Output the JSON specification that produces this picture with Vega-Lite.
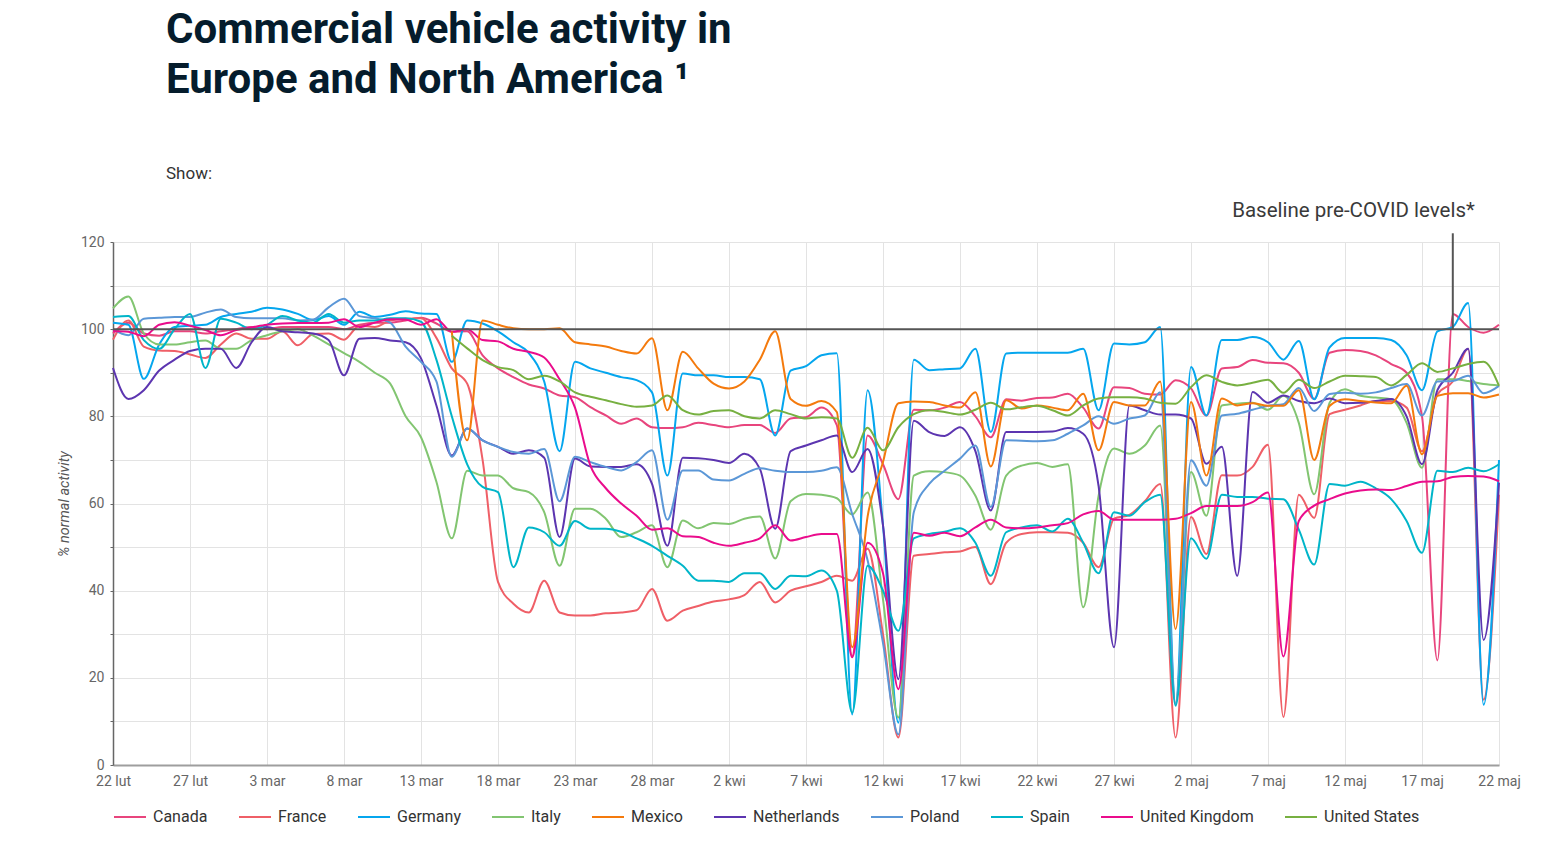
{
"$schema": "https://vega.github.io/schema/vega-lite/v6.json",
"width": 1386, "height": 523,
"autosize": {"type": "none"},
"padding": {"left": 113, "top": 242, "right": 64, "bottom": 103},
"background": "white",
"title": {"text": ["Commercial vehicle activity in", "Europe and North America ¹"], "subtitle": "Show:", "anchor": "start", "frame": "group", "dx": 53, "fontSize": 42, "fontWeight": "bold", "font": "Roboto", "color": "#051c2c", "lineHeight": 50, "subtitleFont": "Roboto", "subtitleFontSize": 17, "subtitleColor": "#333333", "subtitlePadding": 64, "offset": 18},
"layer": [
{
"data": {"values": [
{"date":"2020-02-22","Canada":99,"France":97.6,"Germany":101.5,"Italy":104.8,"Netherlands":91.1,"Poland":100,"Spain":102.8,"United Kingdom":99.6},
{"date":"2020-02-23","Canada":101.5,"France":102,"Germany":101,"Italy":107.5,"Netherlands":84,"Poland":98.6,"Spain":103,"United Kingdom":99.4},
{"date":"2020-02-24","Canada":99,"France":96,"Germany":88.6,"Italy":99,"Netherlands":86,"Poland":102.4,"Spain":97.5,"United Kingdom":98.4},
{"date":"2020-02-25","Canada":98.5,"France":95.1,"Germany":96.5,"Italy":96.5,"Netherlands":90.5,"Poland":102.6,"Spain":95.5,"United Kingdom":101},
{"date":"2020-02-26","Canada":99.5,"France":95,"Germany":100.5,"Italy":96.5,"Netherlands":93,"Poland":102.8,"Spain":100,"United Kingdom":101.6},
{"date":"2020-02-27","Canada":99.5,"France":94.2,"Germany":100.8,"Italy":97,"Netherlands":95,"Poland":102.8,"Spain":103.5,"United Kingdom":100.8},
{"date":"2020-02-28","Canada":99,"France":93.4,"Germany":101,"Italy":97.4,"Netherlands":95.5,"Poland":103.8,"Spain":91.1,"United Kingdom":99.8},
{"date":"2020-02-29","Canada":99.5,"France":96.5,"Germany":102.8,"Italy":95.5,"Netherlands":95.5,"Poland":104.5,"Spain":102.4,"United Kingdom":98.6},
{"date":"2020-03-01","Canada":100,"France":99,"Germany":103.5,"Italy":95.5,"Netherlands":91.1,"Poland":102.8,"Spain":101.5,"United Kingdom":99.8},
{"date":"2020-03-02","Canada":100.5,"France":97.8,"Germany":104,"Italy":97.5,"Netherlands":97,"Poland":102.5,"Spain":100,"United Kingdom":100.4},
{"date":"2020-03-03","Canada":100,"France":97.8,"Germany":104.9,"Italy":98.6,"Netherlands":100.5,"Poland":102.5,"Spain":101,"United Kingdom":101},
{"date":"2020-03-04","Canada":100.5,"France":99.5,"Germany":104.5,"Italy":99.5,"Netherlands":99.5,"Poland":102.5,"Spain":103,"United Kingdom":101.3},
{"date":"2020-03-05","Canada":100.5,"France":96.3,"Germany":103.5,"Italy":100,"Netherlands":99.3,"Poland":102,"Spain":102,"United Kingdom":101.4},
{"date":"2020-03-06","Canada":100.5,"France":98.9,"Germany":102.1,"Italy":98.5,"Netherlands":99,"Poland":102.2,"Spain":101.5,"United Kingdom":101.4},
{"date":"2020-03-07","Canada":100.5,"France":99,"Germany":103,"Italy":96.5,"Netherlands":97.5,"Poland":105,"Spain":103.5,"United Kingdom":101.5},
{"date":"2020-03-08","Canada":100,"France":97.6,"Germany":101,"Italy":94.5,"Netherlands":89.4,"Poland":107,"Spain":101.5,"United Kingdom":102.3},
{"date":"2020-03-09","Canada":101,"France":100.8,"Germany":104,"Italy":92.5,"Netherlands":97.8,"Poland":103,"Spain":102,"United Kingdom":100.5},
{"date":"2020-03-10","Canada":101.5,"France":100.5,"Germany":102.8,"Italy":90,"Netherlands":98,"Poland":102.5,"Spain":102,"United Kingdom":101.5},
{"date":"2020-03-11","Canada":101.5,"France":102,"Germany":103.3,"Italy":87.5,"Netherlands":97.4,"Poland":101.5,"Spain":102.5,"United Kingdom":102.3},
{"date":"2020-03-12","Canada":102,"France":102.4,"Germany":104.1,"Italy":80,"Netherlands":97,"Poland":96,"Spain":102.5,"United Kingdom":102.2},
{"date":"2020-03-13","Canada":102.6,"France":102.5,"Germany":103.6,"Italy":75.2,"Netherlands":93.3,"Poland":92.5,"Spain":101.7,"United Kingdom":101},
{"date":"2020-03-14","Canada":101.3,"France":98,"Germany":103.5,"Italy":65,"Netherlands":82.5,"Poland":88,"Spain":93,"United Kingdom":102.3},
{"date":"2020-03-15","Canada":99.4,"France":91,"Germany":92.5,"Italy":52,"Mexico":99.5,"Netherlands":71,"Poland":70.7,"Spain":80,"United Kingdom":99.4,"United States":98.5},
{"date":"2020-03-16","Canada":99.5,"France":87.5,"Germany":102,"Italy":67.5,"Mexico":74.5,"Netherlands":77.2,"Poland":77.2,"Spain":69,"United Kingdom":100,"United States":95.6},
{"date":"2020-03-17","Canada":94,"France":70,"Germany":101.3,"Italy":66.4,"Mexico":102,"Netherlands":74.5,"Poland":74.5,"Spain":63.8,"United Kingdom":97.5,"United States":92.9},
{"date":"2020-03-18","Canada":91,"France":42,"Germany":99.5,"Italy":66.4,"Mexico":101,"Netherlands":73,"Poland":73,"Spain":62.6,"United Kingdom":97.2,"United States":91.3},
{"date":"2020-03-19","Canada":89,"France":37,"Germany":97,"Italy":63.5,"Mexico":100.2,"Netherlands":71.4,"Poland":71.8,"Spain":45.4,"United Kingdom":95.5,"United States":90.6},
{"date":"2020-03-20","Canada":87.3,"France":35,"Germany":94.5,"Italy":62.6,"Mexico":100,"Netherlands":72.2,"Poland":71.4,"Spain":54.5,"United Kingdom":94.8,"United States":88.5},
{"date":"2020-03-21","Canada":86.4,"France":42.3,"Germany":88,"Italy":58,"Mexico":100,"Netherlands":70.5,"Poland":72.5,"Spain":53.4,"United Kingdom":93.5,"United States":89.3},
{"date":"2020-03-22","Canada":84.8,"France":35,"Germany":72,"Italy":45.7,"Mexico":100.2,"Netherlands":52.3,"Poland":60.5,"Spain":50.3,"United Kingdom":88.5,"United States":88},
{"date":"2020-03-23","Canada":84.4,"France":34.3,"Germany":92.5,"Italy":58.8,"Mexico":97,"Netherlands":70.3,"Poland":70.7,"Spain":56,"United Kingdom":82,"United States":85.5},
{"date":"2020-03-24","Canada":82.1,"France":34.3,"Germany":91,"Italy":58.8,"Mexico":96.5,"Netherlands":68.5,"Poland":69.5,"Spain":54.2,"United Kingdom":68.7,"United States":84.5},
{"date":"2020-03-25","Canada":80.2,"France":34.8,"Germany":90,"Italy":56.5,"Mexico":96,"Netherlands":68.4,"Poland":68.4,"Spain":54.2,"United Kingdom":63.5,"United States":83.7},
{"date":"2020-03-26","Canada":78.3,"France":35,"Germany":89,"Italy":52.3,"Mexico":95,"Netherlands":68.4,"Poland":67.6,"Spain":53.5,"United Kingdom":60,"United States":82.8},
{"date":"2020-03-27","Canada":79.5,"France":35.5,"Germany":88.3,"Italy":53.4,"Mexico":94.4,"Netherlands":69,"Poland":69.5,"Spain":52,"United Kingdom":57.2,"United States":82.2},
{"date":"2020-03-28","Canada":77.5,"France":40.4,"Germany":85.5,"Italy":55,"Mexico":97.9,"Netherlands":64.5,"Poland":72.2,"Spain":50.3,"United Kingdom":54,"United States":82.5},
{"date":"2020-03-29","Canada":77.3,"France":33.1,"Germany":66.4,"Italy":45.4,"Mexico":81.4,"Netherlands":50.3,"Poland":56.3,"Spain":48,"United Kingdom":54.3,"United States":84.8},
{"date":"2020-03-30","Canada":77.5,"France":35.4,"Germany":89.8,"Italy":56.1,"Mexico":94.8,"Netherlands":70.5,"Poland":67.6,"Spain":45.7,"United Kingdom":52.5,"United States":81.4},
{"date":"2020-03-31","Canada":78.5,"France":36.5,"Germany":89.4,"Italy":54.3,"Mexico":91,"Netherlands":70.4,"Poland":67.6,"Spain":42.3,"United Kingdom":52.3,"United States":80.4},
{"date":"2020-04-01","Canada":78,"France":37.5,"Germany":89.4,"Italy":55.5,"Mexico":87.5,"Netherlands":70,"Poland":65.5,"Spain":42.3,"United Kingdom":51,"United States":81.2},
{"date":"2020-04-02","Canada":77.5,"France":38,"Germany":89,"Italy":55.3,"Mexico":86.4,"Netherlands":69.3,"Poland":65.3,"Spain":42,"United Kingdom":50.3,"United States":81.4},
{"date":"2020-04-03","Canada":78,"France":39,"Germany":89,"Italy":56.5,"Mexico":88,"Netherlands":71.4,"Poland":66.8,"Spain":44,"United Kingdom":51,"United States":80},
{"date":"2020-04-04","Canada":78,"France":42,"Germany":88.5,"Italy":57,"Mexico":93,"Netherlands":68,"Poland":68.1,"Spain":44,"United Kingdom":52,"United States":79.5},
{"date":"2020-04-05","Canada":76.2,"France":37.3,"Germany":75.6,"Italy":47.4,"Mexico":99.5,"Netherlands":54.2,"Poland":67.5,"Spain":40.4,"United Kingdom":55,"United States":81.4},
{"date":"2020-04-06","Canada":79.5,"France":40,"Germany":90.5,"Italy":60.5,"Mexico":84,"Netherlands":72,"Poland":67.2,"Spain":43.4,"United Kingdom":51.5,"United States":80.5},
{"date":"2020-04-07","Canada":79.8,"France":41,"Germany":91.5,"Italy":62.2,"Mexico":82.4,"Netherlands":73.3,"Poland":67.2,"Spain":43.3,"United Kingdom":52.3,"United States":79.5},
{"date":"2020-04-08","Canada":82,"France":42,"Germany":94,"Italy":62,"Mexico":83.5,"Netherlands":74.5,"Poland":67.5,"Spain":44.6,"United Kingdom":53,"United States":79.8},
{"date":"2020-04-09","Canada":78,"France":43.4,"Germany":94.5,"Italy":61.2,"Mexico":81,"Netherlands":75.6,"Poland":68.3,"Spain":40,"United Kingdom":53,"United States":79.5},
{"date":"2020-04-10","Canada":25,"France":42.3,"Germany":11.6,"Italy":57.5,"Mexico":27,"Netherlands":67.2,"Poland":57.6,"Spain":12,"United Kingdom":24.7,"United States":70.5},
{"date":"2020-04-11","Canada":75.6,"France":49.6,"Germany":86,"Italy":62.5,"Mexico":57,"Netherlands":72.5,"Poland":47,"Spain":45.7,"United Kingdom":51,"United States":77.4},
{"date":"2020-04-12","Canada":69,"France":30,"Germany":55,"Italy":38,"Mexico":69.5,"Netherlands":55,"Poland":28,"Spain":40,"United Kingdom":44,"United States":72.2},
{"date":"2020-04-13","Canada":61,"France":6.3,"Germany":9.7,"Italy":10.9,"Mexico":83,"Netherlands":19.7,"Poland":7,"Spain":30.8,"United Kingdom":17.4,"United States":77.5},
{"date":"2020-04-14","Canada":81.5,"France":48,"Germany":93,"Italy":66.4,"Mexico":83.4,"Netherlands":79,"Poland":58,"Spain":52,"United Kingdom":53.3,"United States":80.5},
{"date":"2020-04-15","Canada":81.4,"France":48.4,"Germany":90.6,"Italy":67.4,"Mexico":83.3,"Netherlands":76.4,"Poland":64.5,"Spain":53,"United Kingdom":52.6,"United States":81.4},
{"date":"2020-04-16","Canada":82,"France":48.8,"Germany":90.8,"Italy":67.2,"Mexico":82.5,"Netherlands":75.5,"Poland":67.5,"Spain":53.5,"United Kingdom":53.3,"United States":81},
{"date":"2020-04-17","Canada":83.3,"France":49,"Germany":91,"Italy":66.4,"Mexico":82,"Netherlands":77.5,"Poland":70.3,"Spain":54.3,"United Kingdom":52.5,"United States":80.4},
{"date":"2020-04-18","Canada":80,"France":50,"Germany":95.5,"Italy":61.8,"Mexico":85.5,"Netherlands":72,"Poland":73.3,"Spain":51,"United Kingdom":54.5,"United States":81.5},
{"date":"2020-04-19","Canada":75.2,"France":41.5,"Germany":76.4,"Italy":54,"Mexico":68.5,"Netherlands":58.4,"Poland":59.2,"Spain":43.4,"United Kingdom":56.3,"United States":83.1},
{"date":"2020-04-20","Canada":83.9,"France":51,"Germany":94.4,"Italy":66.4,"Mexico":83.7,"Netherlands":76.4,"Poland":74.5,"Spain":53.4,"United Kingdom":54.5,"United States":81.6},
{"date":"2020-04-21","Canada":83.6,"France":53,"Germany":94.6,"Italy":68.7,"Mexico":81.8,"Netherlands":76.4,"Poland":74.4,"Spain":54.5,"United Kingdom":54.3,"United States":82.1},
{"date":"2020-04-22","Canada":84.2,"France":53.4,"Germany":94.6,"Italy":69.3,"Mexico":82.5,"Netherlands":76.4,"Poland":74.3,"Spain":55,"United Kingdom":54.5,"United States":82.4},
{"date":"2020-04-23","Canada":84.3,"France":53.4,"Germany":94.6,"Italy":68.4,"Mexico":82,"Netherlands":76.5,"Poland":74.5,"Spain":53.6,"United Kingdom":55,"United States":81.4},
{"date":"2020-04-24","Canada":85.2,"France":53.3,"Germany":94.6,"Italy":69,"Mexico":81.4,"Netherlands":77.3,"Poland":76,"Spain":56.5,"United Kingdom":55.5,"United States":80.2},
{"date":"2020-04-25","Canada":82,"France":51,"Germany":95.5,"Italy":36.2,"Mexico":85.2,"Netherlands":76,"Poland":77.9,"Spain":51,"United Kingdom":57.5,"United States":82.5},
{"date":"2020-04-26","Canada":77.2,"France":45.4,"Germany":81.4,"Italy":61.8,"Mexico":72.2,"Netherlands":64,"Poland":80,"Spain":44,"United Kingdom":58.3,"United States":84.1},
{"date":"2020-04-27","Canada":86.7,"France":56.5,"Germany":96.7,"Italy":72.6,"Mexico":83.3,"Netherlands":27,"Poland":78.3,"Spain":58,"United Kingdom":56.3,"United States":84.4},
{"date":"2020-04-28","Canada":86.5,"France":57.4,"Germany":96.5,"Italy":71.4,"Mexico":82.5,"Netherlands":82.5,"Poland":79.5,"Spain":57.2,"United Kingdom":56.3,"United States":84.4},
{"date":"2020-04-29","Canada":85.2,"France":60.5,"Germany":97,"Italy":73.3,"Mexico":82.5,"Netherlands":81.4,"Poland":80.2,"Spain":60.3,"United Kingdom":56.3,"United States":84.1},
{"date":"2020-04-30","Canada":85,"France":64.5,"Germany":100.5,"Italy":77.9,"Mexico":88,"Netherlands":80.4,"Poland":85.5,"Spain":62,"United Kingdom":56.3,"United States":83.1},
{"date":"2020-05-01","Canada":88.3,"France":6.3,"Germany":14,"Italy":14,"Mexico":31.2,"Netherlands":80.4,"Poland":14,"Spain":13.6,"United Kingdom":56.5,"United States":82.9},
{"date":"2020-05-02","Canada":86.4,"France":56.9,"Germany":91.3,"Italy":67.2,"Mexico":83.3,"Netherlands":79.5,"Poland":69.9,"Spain":52,"United Kingdom":57.8,"United States":86.7},
{"date":"2020-05-03","Canada":80.2,"France":48.4,"Germany":80.2,"Italy":57.2,"Mexico":66.4,"Netherlands":69.1,"Poland":64.1,"Spain":47.3,"United Kingdom":59.4,"United States":89.4},
{"date":"2020-05-04","Canada":91,"France":66.5,"Germany":97.5,"Italy":82.5,"Mexico":84.1,"Netherlands":73,"Poland":80.2,"Spain":62,"United Kingdom":59.4,"United States":87.9},
{"date":"2020-05-05","Canada":91.3,"France":66.4,"Germany":97.5,"Italy":82.9,"Mexico":82.5,"Netherlands":43.4,"Poland":80.6,"Spain":61.5,"United Kingdom":59.4,"United States":87.1},
{"date":"2020-05-06","Canada":92.9,"France":68.4,"Germany":98.2,"Italy":83.1,"Mexico":83,"Netherlands":85.6,"Poland":81.5,"Spain":61.5,"United Kingdom":60.3,"United States":87.7},
{"date":"2020-05-07","Canada":92.3,"France":73.5,"Germany":97,"Italy":81.5,"Mexico":82.4,"Netherlands":83.1,"Poland":82.4,"Spain":61.1,"United Kingdom":62.5,"United States":88.4},
{"date":"2020-05-08","Canada":92.2,"France":11,"Germany":93,"Italy":84.7,"Mexico":82.4,"Netherlands":84.8,"Poland":82.8,"Spain":61,"United Kingdom":24.9,"United States":85.4},
{"date":"2020-05-09","Canada":90,"France":62,"Germany":97.3,"Italy":78.5,"Mexico":86,"Netherlands":83.5,"Poland":86.5,"Spain":54,"United Kingdom":56,"United States":88.4},
{"date":"2020-05-10","Canada":84,"France":56.7,"Germany":83.9,"Italy":62.1,"Mexico":70,"Netherlands":83,"Poland":81.2,"Spain":46,"United Kingdom":59.5,"United States":86.5},
{"date":"2020-05-11","Canada":94.6,"France":80.5,"Germany":95.8,"Italy":83.1,"Mexico":82.4,"Netherlands":84.1,"Poland":85.1,"Spain":64.5,"United Kingdom":61,"United States":88},
{"date":"2020-05-12","Canada":95.2,"France":81.5,"Germany":98,"Italy":86.2,"Mexico":83.9,"Netherlands":83,"Poland":85.4,"Spain":64.1,"United Kingdom":62.3,"United States":89.3},
{"date":"2020-05-13","Canada":95,"France":82.5,"Germany":98,"Italy":84.7,"Mexico":83.5,"Netherlands":83.1,"Poland":85.2,"Spain":65,"United Kingdom":63,"United States":89.2},
{"date":"2020-05-14","Canada":94,"France":83.5,"Germany":98,"Italy":84.3,"Mexico":83.2,"Netherlands":83.5,"Poland":85.5,"Spain":63.5,"United Kingdom":63.2,"United States":89},
{"date":"2020-05-15","Canada":92,"France":83.5,"Germany":97.5,"Italy":83.9,"Mexico":83,"Netherlands":84,"Poland":86.5,"Spain":61,"United Kingdom":63.1,"United States":87.1},
{"date":"2020-05-16","Canada":90,"France":82,"Germany":94,"Italy":78.5,"Mexico":87,"Netherlands":80,"Poland":87.4,"Spain":56,"United Kingdom":64,"United States":89.5},
{"date":"2020-05-17","Canada":80,"France":72,"Germany":86,"Italy":68.2,"Mexico":71.3,"Netherlands":69,"Poland":80.2,"Spain":48.7,"United Kingdom":65,"United States":92.2},
{"date":"2020-05-18","Canada":24,"France":85,"Germany":99.5,"Italy":88.5,"Mexico":84.7,"Netherlands":86,"Poland":88,"Spain":67.5,"United Kingdom":65.1,"United States":90.2},
{"date":"2020-05-19","Canada":103.5,"France":88,"Germany":100.5,"Italy":88.5,"Mexico":85.3,"Netherlands":90,"Poland":88.1,"Spain":67.2,"United Kingdom":66.1,"United States":91},
{"date":"2020-05-20","Canada":100.5,"France":95.5,"Germany":106,"Italy":88.1,"Mexico":85.3,"Netherlands":95.5,"Poland":89.3,"Spain":68.2,"United Kingdom":66.3,"United States":92},
{"date":"2020-05-21","Canada":99.2,"France":15,"Germany":13.8,"Italy":87.4,"Mexico":84.3,"Netherlands":28.7,"Poland":85.3,"Spain":67.4,"United Kingdom":66.2,"United States":92.5},
{"date":"2020-05-22","Canada":101,"France":62,"Germany":70,"Italy":87.1,"Mexico":85,"Netherlands":64.8,"Poland":87,"Spain":69,"United Kingdom":65.1,"United States":87}
]},
"transform": [
{"fold": ["Canada","France","Germany","Italy","Mexico","Netherlands","Poland","Spain","United Kingdom","United States"], "as": ["country","value"]},
{"filter": "isValid(datum.value)"}
],
"mark": {"type": "line", "interpolate": "monotone", "strokeWidth": 2},
"encoding": {
"x": {"field": "date", "type": "temporal", "title": null,
 "scale": {"type": "utc", "domain": [{"year":2020,"month":2,"date":22,"utc":true},{"year":2020,"month":5,"date":22,"utc":true}]},
 "axis": {"values": [
  {"year":2020,"month":2,"date":22,"utc":true},{"year":2020,"month":2,"date":27,"utc":true},
  {"year":2020,"month":3,"date":3,"utc":true},{"year":2020,"month":3,"date":8,"utc":true},
  {"year":2020,"month":3,"date":13,"utc":true},{"year":2020,"month":3,"date":18,"utc":true},
  {"year":2020,"month":3,"date":23,"utc":true},{"year":2020,"month":3,"date":28,"utc":true},
  {"year":2020,"month":4,"date":2,"utc":true},{"year":2020,"month":4,"date":7,"utc":true},
  {"year":2020,"month":4,"date":12,"utc":true},{"year":2020,"month":4,"date":17,"utc":true},
  {"year":2020,"month":4,"date":22,"utc":true},{"year":2020,"month":4,"date":27,"utc":true},
  {"year":2020,"month":5,"date":2,"utc":true},{"year":2020,"month":5,"date":7,"utc":true},
  {"year":2020,"month":5,"date":12,"utc":true},{"year":2020,"month":5,"date":17,"utc":true},
  {"year":2020,"month":5,"date":22,"utc":true}],
  "labelExpr": "utcFormat(datum.value, '%-d') + ' ' + ['sty','lut','mar','kwi','maj','cze'][utcmonth(datum.value)]",
  "grid": true, "ticks": false, "labelPadding": 9, "labelFlush": false, "labelOverlap": false,
  "domainColor": "#9e9e9e", "domainWidth": 2}},
"y": {"field": "value", "type": "quantitative", "title": "% normal activity",
 "scale": {"domain": [0, 120], "nice": false},
 "axis": {"values": [0,10,20,30,40,50,60,70,80,90,100,110,120],
  "labelExpr": "datum.value % 20 === 0 ? datum.label : ''",
  "titleFontStyle": "italic", "titleFontWeight": "normal", "titleFontSize": 14.5, "titleColor": "#555555", "titlePadding": 9,
  "tickSize": 3, "labelPadding": 6, "domainColor": "#666666", "domainWidth": 1.5}},
"color": {"field": "country", "type": "nominal",
 "scale": {"domain": ["Canada","France","Germany","Italy","Mexico","Netherlands","Poland","Spain","United Kingdom","United States"],
  "range": ["#e8457d","#ef5f67","#05a6ee","#82c571","#f47a0d","#5c35b0","#5b97d7","#00b5c9","#ea0c8c","#77b041"]},
 "legend": {"title": null}}
}
},
{
"data": {"values": [{}]},
"mark": {"type": "rule", "color": "#555555", "strokeWidth": 2},
"encoding": {"y": {"datum": 100, "type": "quantitative", "title": "% normal activity", "scale": {"domain": [0, 120], "nice": false}}}
},
{
"data": {"values": [{"date": "2020-05-19", "value": 100, "value2": 122}]},
"mark": {"type": "rule", "color": "#555555", "strokeWidth": 2},
"encoding": {
"x": {"field": "date", "type": "temporal", "title": null, "scale": {"type": "utc", "domain": [{"year":2020,"month":2,"date":22,"utc":true},{"year":2020,"month":5,"date":22,"utc":true}]}},
"y": {"field": "value", "type": "quantitative", "title": "% normal activity", "scale": {"domain": [0, 120], "nice": false}},
"y2": {"field": "value2", "title": "% normal activity"}
}
},
{
"data": {"values": [{"date": "2020-05-19", "value": 127.2, "label": "Baseline pre-COVID levels*"}]},
"mark": {"type": "text", "align": "right", "baseline": "middle", "dx": 22, "fontSize": 20.5, "color": "#3a3a3a", "font": "Roboto"},
"encoding": {
"x": {"field": "date", "type": "temporal", "title": null, "scale": {"type": "utc", "domain": [{"year":2020,"month":2,"date":22,"utc":true},{"year":2020,"month":5,"date":22,"utc":true}]}},
"y": {"field": "value", "type": "quantitative", "title": "% normal activity", "scale": {"domain": [0, 120], "nice": false}},
"text": {"field": "label"}
}
}
],
"config": {
"font": "Roboto",
"view": {"stroke": null},
"axis": {"labelFont": "Roboto", "labelFontSize": 14, "labelColor": "#666666", "gridColor": "#e3e3e3", "gridWidth": 1, "tickColor": "#666666", "titleFont": "Roboto"},
"legend": {"orient": "bottom", "direction": "horizontal", "columns": 10, "symbolType": "stroke", "symbolSize": 1024, "symbolStrokeWidth": 2, "labelFont": "Roboto", "labelFontSize": 16, "labelColor": "#333333", "columnPadding": 27, "labelOffset": 6, "offset": 12}
}
}
